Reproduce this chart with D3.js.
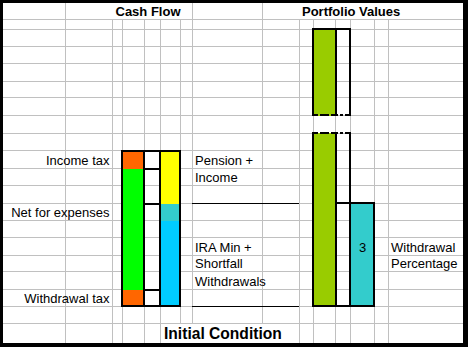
<!DOCTYPE html>
<html><head><meta charset="utf-8">
<script src="https://cdn.jsdelivr.net/npm/d3@7"></script>
<style>
html,body{margin:0;padding:0;background:#fff;}
svg{display:block;}
text{font-family:"Liberation Sans",Arial,Helvetica,sans-serif;fill:#000;}
</style>
</head><body>
<svg id="c" width="468" height="348"></svg>
<script>
// ---------------- data ----------------
const titles = ["Cash Flow", "Portfolio Values", "Initial Condition"];
// cash flow, spending column (bottom -> top), in grid-row units
const expenseCategories = ["Withdrawal tax", "Net for expenses", "Income tax"];
const expenseValues = [1, 7, 1];
// cash flow, income column (bottom -> top)
const incomeCategories = ["IRA Min + Shortfall Withdrawals", "Overlap", "Pension + Income"];
const incomeValues = [5, 1, 3];
const incomeLabelLines = [["IRA Min +", "Shortfall", "Withdrawals"], ["Pension +", "Income"]];
// level markers in the middle column
const markerValues = [1, 6, 8];
// portfolio
const portfolioValue = 16;
const portfolioBreak = [10, 11];
const withdrawalBarValue = 6;
const withdrawalPercentage = 3;
const sideLabels = ["Withdrawal", "Percentage"];

// ---------------- layout ----------------
const W = 468, H = 348;
const colEdges = [65, 112, 122, 144, 160, 180, 192, 262, 299, 313, 335, 350, 374, 388];
const rowEdges = [29, 46, 63, 81, 97, 115, 133, 150, 168, 185, 203, 220, 237, 255, 271, 289, 306, 323];
const headerLine = 19;
const gridColor = "#C0C0C0";
const colors = {
  tax: "#FF6600", net: "#00FF00", pension: "#FFFF00",
  overlap: "#33CCCC", ira: "#00CCFF", portfolio: "#99CC00", pct: "#33CCCC"
};

const svg = d3.select("#c");
svg.append("rect").attr("width", W).attr("height", H).attr("fill", "#fff");

// value scale: grid-row units (0 at base) -> pixel
const yVal = d3.scaleLinear()
  .domain(d3.range(17))
  .range(rowEdges.slice(0, 17).reverse());
// column index -> pixel
const xCol = d3.scaleOrdinal().domain(d3.range(colEdges.length)).range(colEdges);

// ---------------- grid ----------------
const grid = svg.append("g").attr("stroke", gridColor).attr("stroke-width", 1).attr("shape-rendering", "crispEdges");
[headerLine].concat(rowEdges).forEach(r => {
  grid.append("line").attr("x1", 3).attr("x2", 463).attr("y1", r + 0.5).attr("y2", r + 0.5);
});
colEdges.forEach(c => {
  grid.append("line").attr("x1", c + 0.5).attr("x2", c + 0.5).attr("y1", 3).attr("y2", 343);
});
// merged header / footer cells hide gridlines
const masks = svg.append("g").attr("fill", "#fff");
masks.append("rect").attr("x", xCol(0) + 1).attr("y", 3).attr("width", xCol(6) - xCol(0) - 1).attr("height", headerLine - 3);
masks.append("rect").attr("x", xCol(7) + 1).attr("y", 3).attr("width", 463 - xCol(7) - 1).attr("height", headerLine - 3);
masks.append("rect").attr("x", xCol(4) + 1).attr("y", rowEdges[17] + 1).attr("width", xCol(8) - xCol(4) - 1).attr("height", 343 - rowEdges[17] - 1);

// ---------------- cash flow bars ----------------
function stackOf(vals) {
  let acc = 0;
  return vals.map(v => { const s = {y0: acc, y1: acc + v}; acc += v; return s; });
}
const expStack = stackOf(expenseValues);
const incStack = stackOf(incomeValues);
const expColors = [colors.tax, colors.net, colors.tax];
const incColors = [colors.ira, colors.overlap, colors.pension];

const bars = svg.append("g").attr("shape-rendering", "crispEdges");
bars.selectAll("rect.exp").data(expStack).join("rect").attr("class", "exp")
  .attr("x", xCol(2)).attr("width", xCol(3) - xCol(2))
  .attr("y", d => yVal(d.y1)).attr("height", d => yVal(d.y0) - yVal(d.y1) + 1)
  .attr("fill", (d, i) => expColors[i]);
bars.selectAll("rect.inc").data(incStack).join("rect").attr("class", "inc")
  .attr("x", xCol(4)).attr("width", xCol(5) - xCol(4))
  .attr("y", d => yVal(d.y1)).attr("height", d => yVal(d.y0) - yVal(d.y1) + 1)
  .attr("fill", (d, i) => incColors[i]);

// ---------------- portfolio bars ----------------
const portSegs = [{y0: 0, y1: portfolioBreak[0]}, {y0: portfolioBreak[1], y1: portfolioValue}];
bars.selectAll("rect.port").data(portSegs).join("rect").attr("class", "port")
  .attr("x", xCol(9)).attr("width", xCol(10) - xCol(9) + 1)
  .attr("y", d => yVal(d.y1)).attr("height", d => yVal(d.y0) - yVal(d.y1) + 1)
  .attr("fill", colors.portfolio);
bars.append("rect")
  .attr("x", xCol(11)).attr("width", xCol(12) - xCol(11))
  .attr("y", yVal(withdrawalBarValue)).attr("height", yVal(0) - yVal(withdrawalBarValue) + 1)
  .attr("fill", colors.pct);

// ---------------- borders ----------------
const bd = svg.append("g").attr("stroke", "#000").attr("stroke-width", 2).attr("fill", "none").attr("shape-rendering", "crispEdges");
const cashTop = yVal(d3.sum(expenseValues)), base = yVal(0);
// cash flow outer box + dividers
bd.append("rect").attr("x", xCol(2)).attr("y", cashTop + 1).attr("width", xCol(5) - xCol(2)).attr("height", base - cashTop - 1);
[3, 4].forEach(ci => bd.append("line").attr("x1", xCol(ci)).attr("x2", xCol(ci)).attr("y1", cashTop).attr("y2", base + 1));
markerValues.forEach(v => bd.append("line").attr("x1", xCol(3)).attr("x2", xCol(4)).attr("y1", yVal(v) + 1).attr("y2", yVal(v) + 1));

// portfolio boxes (with break)
portSegs.forEach(s => {
  const yt = yVal(s.y1), yb = yVal(s.y0);
  [9, 11].forEach(ci => bd.append("line").attr("x1", xCol(ci)).attr("x2", xCol(ci)).attr("y1", yt - 1).attr("y2", yb + 1));
  bd.append("line").attr("x1", xCol(10) + 1).attr("x2", xCol(10) + 1).attr("y1", yt).attr("y2", yb);
  const topDashed = s.y1 === portfolioBreak[0];
  bd.append("line").attr("x1", xCol(9) - 1).attr("x2", xCol(11) + 1).attr("y1", yt).attr("y2", yt)
    .attr("stroke-dasharray", topDashed ? "6,2,9,2,7,2,3,2,5" : null);
  const botDashed = s.y0 === portfolioBreak[1];
  bd.append("line").attr("x1", xCol(9) - 1).attr("x2", xCol(11) + 1).attr("y1", yb).attr("y2", yb)
    .attr("stroke-dasharray", botDashed ? "6,2,9,2,7,2,3,2,5" : null);
});
// marker in portfolio white column
bd.append("line").attr("x1", xCol(10)).attr("x2", xCol(11)).attr("y1", yVal(withdrawalBarValue)).attr("y2", yVal(withdrawalBarValue));
// withdrawal percentage box
bd.append("rect").attr("x", xCol(11)).attr("y", yVal(withdrawalBarValue)).attr("width", xCol(12) - xCol(11)).attr("height", yVal(0) - yVal(withdrawalBarValue));

// thin connector lines for the IRA withdrawal range
const thin = svg.append("g").attr("stroke", "#000").attr("stroke-width", 1).attr("shape-rendering", "crispEdges");
[withdrawalBarValue, 0].forEach(v => thin.append("line").attr("x1", xCol(6)).attr("x2", xCol(8)).attr("y1", yVal(v) + 0.5).attr("y2", yVal(v) + 0.5));

// ---------------- frame ----------------
const fr = svg.append("g").attr("fill", "#000");
fr.append("rect").attr("x", 0).attr("y", 0).attr("width", W).attr("height", 3);
fr.append("rect").attr("x", 0).attr("y", 0).attr("width", 3).attr("height", 347);
fr.append("rect").attr("x", 463).attr("y", 0).attr("width", 5).attr("height", 347);
fr.append("rect").attr("x", 0).attr("y", 343).attr("width", W).attr("height", 4);

// ---------------- text ----------------
const t = svg.append("g").attr("font-size", 13);
t.append("text").attr("x", 115.5).attr("y", 16).attr("font-weight", "bold").text(titles[0]);
t.append("text").attr("x", 302).attr("y", 16).attr("font-weight", "bold").text(titles[1]);
t.append("text").attr("x", 164).attr("y", 339).attr("font-weight", "bold").attr("font-size", 15.6).text(titles[2]);

// left category labels: each sits in the row just below its level
const labelLevels = [expStack[0].y1, incStack[1].y1, expStack[2].y1];
labelLevels.forEach((lv, i) => {
  t.append("text").attr("x", xCol(1) - 2.5).attr("y", yVal(lv - 1) - 3.5)
    .attr("text-anchor", "end").text(expenseCategories[i]);
});

// right income labels
const incTop = d3.sum(incomeValues);
incomeLabelLines[1].forEach((s, k) => {
  t.append("text").attr("x", xCol(6) + 3).attr("y", yVal(incTop - k - 1) - 3.5).text(s);
});
incomeLabelLines[0].forEach((s, k) => {
  const top = incomeValues[0] - 1;
  t.append("text").attr("x", xCol(6) + 3).attr("y", yVal(top - k - 1) - 3.5).text(s);
});

// withdrawal percentage
const pctRow = withdrawalBarValue - 2;
t.append("text").attr("x", (xCol(11) + xCol(12)) / 2 + 0.5).attr("y", yVal(pctRow - 1) - 3.5)
  .attr("text-anchor", "middle").text(withdrawalPercentage);
sideLabels.forEach((s, k) => {
  t.append("text").attr("x", xCol(13) + 3).attr("y", yVal(pctRow - k - 1) - 3.5).text(s);
});
</script>
</body></html>
